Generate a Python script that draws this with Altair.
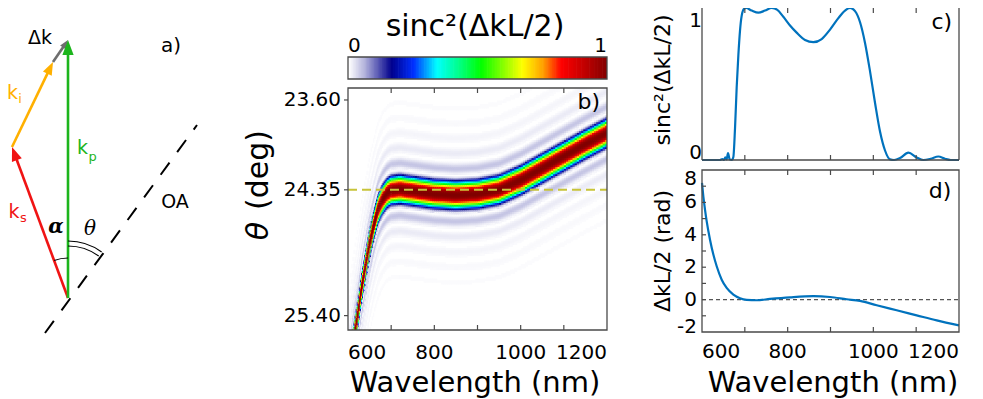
import numpy as np
import pandas as pd
import altair as alt

# ---------------- values ----------------
# (a) wave-vector diagram: pixel-sized units, common tail at (0, 0), y pointing up
vec_name = ["dk", "ki", "ks", "kp"]
vec_x0 = [-15, -56, 0, 0]
vec_y0 = [236, 151, 0, 0]
vec_x1 = [0, -15, -56, 0]
vec_y1 = [258, 236, 151, 258]
oa_x = [-23, 129]
oa_y = [-35, 173]

# (b) ridge of the sinc^2 map (deg); main-lobe half width, side-fringe period (deg)
ridge_wl = [600, 610, 615, 620, 625, 630, 640, 650, 660, 670, 680, 690, 700,
            720, 750, 800, 850, 900, 950, 1000, 1050, 1100, 1150, 1200]
ridge_theta = [25.95, 25.68, 25.56, 25.45, 25.33, 25.20, 25.00, 24.80, 24.64,
               24.51, 24.43, 24.38, 24.355, 24.345, 24.36, 24.385, 24.395,
               24.385, 24.35, 24.27, 24.17, 24.07, 23.97, 23.875]
main_halfwidth = 0.165
fringe_period = 0.125
lobe_power = 1.3
theta_pm = 24.35

# (c) sinc^2(dkL/2) at theta_pm
c_wl = [600, 642, 647.5, 651.4, 654.5, 657.6, 660.7, 664.6, 669.3, 673.2,
        677.1, 681, 684.9, 688.7, 692.6, 698.1, 702.8, 716, 731.6, 747.1,
        762.7, 775.9, 789.9, 805.5, 821, 840.5, 860, 879.4, 898.9, 918.3,
        933.9, 945.6, 957.3, 969, 980.6, 992.3, 1004, 1015.6, 1027.3, 1039,
        1048.3, 1062.3, 1081.8, 1101.2, 1116.8, 1133.9, 1151.8, 1167.4, 1180.6, 1200]
c_val = [0, 0, 0.006, 0, 0.017, 0.004, 0.046, 0.004, 0, 0.02,
         0.21, 0.48, 0.69, 0.85, 0.948, 0.994, 1.0, 0.983, 0.969, 0.983,
         1.0, 0.988, 0.942, 0.885, 0.838, 0.79, 0.775, 0.796, 0.858, 0.933,
         0.983, 1.0, 0.979, 0.906, 0.77, 0.583, 0.375, 0.1875, 0.0625, 0.004,
         0, 0.0125, 0.048, 0.017, 0, 0.008, 0.023, 0.008, 0, 0]

# (d) dkL/2 (rad) at theta_pm
d_wl = [600, 603.1, 607, 610.9, 618.7, 626.5, 634.3, 646, 657.6, 673.2, 688.7,
        704.3, 727.7, 758.8, 805.5, 860, 898.9, 937.8, 969, 1007.8, 1054.5,
        1101.2, 1148, 1200]
d_val = [7.2, 6.38, 5.56, 4.84, 3.70, 2.78, 2.06, 1.23, 0.72, 0.31, 0.086,
         -0.016, -0.04, 0.04, 0.14, 0.21, 0.16, 0.02, -0.08, -0.35, -0.66,
         -0.97, -1.28, -1.59]

# ticks / labels
wl_ticks = [700, 800, 900, 1000, 1100]
wl_labels = [600, 800, 1000, 1200]
theta_ticks = [23.60, 24.35, 25.40]
theta_labels = ["23.60", "24.35", "25.40"]
d_ticks = [-1, 0, 1, 2, 3, 4, 5, 6, 7]
d_labels = [-2, 0, 2, 4, 6, 8]

# colormap (white -> navy -> jet)
cmap_stops = [0.0, 0.06, 0.165, 0.25, 0.34, 0.42, 0.51, 0.67, 0.75, 0.82, 0.9, 1.0]
cmap_colors = ["#ffffff", "#b4b4dc", "#00008c", "#0030ff", "#00ffff", "#00ff90",
               "#00ff00", "#ffff00", "#ffa000", "#ff0000", "#c80000", "#800000"]

# styles
vec_colors = ["#6e6e6e", "#ffb000", "#f01414", "#1cb51c"]
head_size = [81, 169, 196, 225]
SANS = "DejaVu Sans"
SERIF = "DejaVu Serif"
FRAME = "#4a4a4a"
BLUE = "#0072bd"
ARROW = "M0,-1L0.75,1L-0.75,1Z"

# ---------------- scales (explicit pixel ranges) ----------------
def S(dom, rng):
    return alt.Scale(domain=dom, range=rng, nice=False, zero=False)

SXA = S([-60, 160], [0, 220])
SYA = S([0, 290], [290, 0])
SXB = S([600, 1200], [340, 599])
SYB = S([23.5, 25.52], [80, 322])
SXK = S([0, 1], [340, 599])
SXC = S([600, 1200], [694, 951])
SYC = S([0, 1], [152, 0])
SYD = S([-2, 8], [324, 162])
CS = alt.Scale(domain=cmap_stops, range=cmap_colors, interpolate="rgb")


def X(f, s):
    return alt.X(f, type="quantitative", scale=s, axis=None)


def Y(f, s):
    return alt.Y(f, type="quantitative", scale=s, axis=None)


def ptext(text, x, y, size, color="black", align="center", baseline="middle",
          angle=0, font=SANS, style="normal", weight="normal"):
    return alt.Chart(pd.DataFrame({"t": [text]})).mark_text(
        align=align, baseline=baseline, angle=angle, font=font, fontSize=size,
        fontStyle=style, fontWeight=weight, color=color
    ).encode(x=alt.value(x), y=alt.value(y), text="t:N")


def dtext(text, xv, yv, sx, sy, size, color="black", align="center",
          baseline="middle", font=SANS, style="normal", weight="normal", dy=0):
    df = pd.DataFrame({"x": [xv], "y": [yv], "t": [text]})
    return alt.Chart(df).mark_text(
        align=align, baseline=baseline, font=font, fontSize=size,
        fontStyle=style, fontWeight=weight, color=color, dy=dy
    ).encode(x=X("x:Q", sx), y=Y("y:Q", sy), text="t:N")


def xlabels(vals, sx, y, size):
    out = []
    for i, v in enumerate(vals):
        align = "left" if i == 0 else ("right" if i == len(vals) - 1 else "center")
        df = pd.DataFrame({"x": [v], "t": [str(v)]})
        out.append(alt.Chart(df).mark_text(align=align, baseline="alphabetic",
                                           fontSize=size, font=SANS, color="black")
                   .encode(x=X("x:Q", sx), y=alt.value(y), text="t:N"))
    return out


def xticks(vals, sx, y0, y1):
    return alt.Chart(pd.DataFrame({"x": vals})).mark_rule(
        color=FRAME, strokeWidth=1.2).encode(x=X("x:Q", sx), y=alt.value(y0), y2=alt.value(y1))


def yticks(vals, sy, x0, x1):
    return alt.Chart(pd.DataFrame({"y": vals})).mark_rule(
        color=FRAME, strokeWidth=1.2).encode(y=Y("y:Q", sy), x=alt.value(x0), x2=alt.value(x1))


layers = []

# ---------------- panel a ----------------
vec = pd.DataFrame({"name": vec_name, "x0": vec_x0, "y0": vec_y0,
                    "x1": vec_x1, "y1": vec_y1, "hs": head_size})
dx = vec.x1 - vec.x0
dy = vec.y1 - vec.y0
ln = np.hypot(dx, dy)
hl = np.sqrt(vec.hs)
vec["xe"] = vec.x1 - 0.8 * hl * dx / ln
vec["ye"] = vec.y1 - 0.8 * hl * dy / ln
vec["hx"] = vec.x1 - 0.5 * hl * dx / ln
vec["hy"] = vec.y1 - 0.5 * hl * dy / ln
vec["ang"] = np.degrees(np.arctan2(dx, dy)) % 360
vcol = alt.Color("name:N", scale=alt.Scale(domain=vec_name, range=vec_colors), legend=None)

oa = pd.DataFrame({"x0": [oa_x[0]], "y0": [oa_y[0]], "x1": [oa_x[1]], "y1": [oa_y[1]]})
layers.append(alt.Chart(oa).mark_rule(color="black", strokeWidth=2, strokeDash=[15, 13])
              .encode(x=X("x0:Q", SXA), y=Y("y0:Q", SYA), x2="x1:Q", y2="y1:Q"))
layers.append(alt.Chart(vec).mark_rule(strokeWidth=2.6)
              .encode(x=X("x0:Q", SXA), y=Y("y0:Q", SYA), x2="xe:Q", y2="ye:Q", color=vcol))
layers.append(alt.Chart(vec).mark_point(shape=ARROW, filled=True, opacity=1, strokeWidth=0)
              .encode(x=X("hx:Q", SXA), y=Y("hy:Q", SYA), color=vcol,
                      angle=alt.Angle("ang:Q", scale=None), size=alt.Size("hs:Q", scale=None)))

a_ks = float(np.arctan2(vec_x1[2], vec_y1[2]) % (2 * np.pi))
a_oa = float(np.arctan2(oa_x[1] - oa_x[0], oa_y[1] - oa_y[0]))
arc_df = pd.DataFrame({"x": [0], "y": [0]})
for t0, t1, r in [(a_ks, 2 * np.pi, 40), (0.0, a_oa, 52), (0.0, a_oa, 57)]:
    layers.append(alt.Chart(arc_df).mark_arc(theta=t0, theta2=t1, radius=r + 0.6,
                                             radius2=r - 0.6, color="black")
                  .encode(x=X("x:Q", SXA), y=Y("y:Q", SYA)))

layers += [
    dtext("Δk", -28, 260, SXA, SYA, 19),
    dtext("a)", 103, 252, SXA, SYA, 20),
    dtext("k", -55.5, 205.5, SXA, SYA, 19, color="#ffb000"),
    dtext("i", -48, 199, SXA, SYA, 13, color="#ffb000"),
    dtext("k", 14.5, 150.5, SXA, SYA, 19, color="#1cb51c"),
    dtext("p", 24.5, 141, SXA, SYA, 13, color="#1cb51c"),
    dtext("k", -54, 86.5, SXA, SYA, 19, color="#f01414"),
    dtext("s", -44.5, 80.5, SXA, SYA, 13, color="#f01414"),
    dtext("OA", 107, 96.5, SXA, SYA, 19),
    dtext("α", -12, 71, SXA, SYA, 20, font=SERIF, style="italic", weight="bold"),
    dtext("θ", 22, 69.5, SXA, SYA, 20, font=SERIF, style="italic"),
]

# ---------------- panel b: heat map ----------------
def heat_cells(l0, l1, ls, ts):
    lv = np.arange(l0, l1 - 1e-9, ls)
    tv = np.arange(23.5, 25.52 - 1e-9, ts)
    L, T = np.meshgrid(lv, tv, indexing="ij")
    th0 = np.interp(L + ls / 2, ridge_wl, ridge_theta)
    d = np.abs(T + ts / 2 - th0)
    u = np.where(d < main_halfwidth, (d / main_halfwidth) ** lobe_power,
                 1 + (d - main_halfwidth) / fringe_period)
    V = np.sinc(u) ** 2
    df = pd.DataFrame({"l": L.ravel().round(2), "t": T.ravel().round(4), "v": V.ravel().round(4)})
    return df[df.v >= 0.003].reset_index(drop=True)

TS = 0.015
for (l0, l1, ls) in [(600, 700, 2.5), (700, 1200, 5.0)]:
    hd = heat_cells(l0, l1, ls, TS)
    layers.append(
        alt.Chart(hd).transform_calculate(
            l2=f"min(datum.l + {ls * 1.4}, 1200)", t2=f"min(datum.t + {TS * 1.4}, 25.52)"
        ).mark_rect(strokeWidth=0).encode(
            x=X("l:Q", SXB), x2="l2:Q", y=Y("t:Q", SYB), y2="t2:Q",
            color=alt.Color("v:Q", scale=CS, legend=None))
    )

pm = pd.DataFrame({"l": [600, 1200], "t": [theta_pm, theta_pm]})
layers.append(alt.Chart(pm).mark_line(color="#c8c43a", strokeWidth=2, strokeDash=[9, 5])
              .encode(x=X("l:Q", SXB), y=Y("t:Q", SYB)))
frame_b = pd.DataFrame({"x": [600], "x2": [1200], "y": [23.5], "y2": [25.52]})
layers.append(alt.Chart(frame_b).mark_rect(fillOpacity=0, stroke=FRAME, strokeWidth=1.3)
              .encode(x=X("x:Q", SXB), x2="x2:Q", y=Y("y:Q", SYB), y2="y2:Q"))
layers += [xticks(wl_ticks, SXB, 322, 317), xticks(wl_ticks, SXB, 80, 85),
           yticks(theta_ticks, SYB, 336, 340)]
layers += xlabels(wl_labels, SXB, 351, 20)
tl = pd.DataFrame({"y": theta_ticks, "t": theta_labels})
layers.append(alt.Chart(tl).mark_text(align="right", baseline="middle", fontSize=20, font=SANS, color="black")
              .encode(y=Y("y:Q", SYB), x=alt.value(333), text="t:N"))
layers += [
    ptext("Wavelength (nm)", 467, 384, 29, baseline="alphabetic"),
    ptext("θ", 251, 223, 30, angle=270, style="italic"),
    ptext("(deg)", 251, 162, 30, angle=270),
    dtext("b)", 1158, 23.617, SXB, SYB, 22),
]

# colorbar
cb = pd.DataFrame({"v": np.round(np.linspace(0, 1, 161)[:-1], 5)})
layers.append(alt.Chart(cb).transform_calculate(v2="min(datum.v + 0.00875, 1)")
              .mark_rect(strokeWidth=0)
              .encode(x=X("v:Q", SXK), x2="v2:Q", y=alt.value(49), y2=alt.value(71),
                      color=alt.Color("v:Q", scale=CS, legend=None)))
cbf = pd.DataFrame({"x": [0], "x2": [1]})
layers.append(alt.Chart(cbf).mark_rect(fillOpacity=0, stroke=FRAME, strokeWidth=1.3)
              .encode(x=X("x:Q", SXK), x2="x2:Q", y=alt.value(49), y2=alt.value(71)))
cbl = pd.DataFrame({"x": [0], "t": ["0"]})
layers.append(alt.Chart(cbl).mark_text(align="left", baseline="alphabetic", fontSize=20, font=SANS)
              .encode(x=X("x:Q", SXK), y=alt.value(44), text="t:N"))
cbr = pd.DataFrame({"x": [1], "t": ["1"]})
layers.append(alt.Chart(cbr).mark_text(align="right", baseline="alphabetic", fontSize=20, font=SANS)
              .encode(x=X("x:Q", SXK), y=alt.value(44), text="t:N"))
layers.append(ptext("sinc²(ΔkL/2)", 467, 28, 30, baseline="alphabetic"))

# ---------------- panel c ----------------
cdf = pd.DataFrame({"l": c_wl, "v": c_val})
layers.append(alt.Chart(cdf).mark_line(color=BLUE, strokeWidth=2.2, interpolate="monotone")
              .encode(x=X("l:Q", SXC), y=Y("v:Q", SYC)))
layers.append(alt.Chart(pd.DataFrame({"x": [600, 1200]})).mark_rule(color=FRAME, strokeWidth=1.3)
              .encode(x=X("x:Q", SXC), y=alt.value(0), y2=alt.value(152)))
layers.append(alt.Chart(pd.DataFrame({"y": [0]})).mark_rule(color=FRAME, strokeWidth=1.3)
              .encode(y=Y("y:Q", SYC), x=alt.value(694), x2=alt.value(951)))
layers += [xticks(wl_ticks, SXC, 152, 147), xticks(wl_ticks, SXC, 0, 5)]
layers += [
    dtext("1", 600, 1, SXC, SYC, 20, align="right", dy=13),
    dtext("0", 600, 0, SXC, SYC, 20, align="right", dy=-7),
    dtext("c)", 1160, 0.91, SXC, SYC, 22),
    ptext("sinc²(ΔkL/2)", 655, 72, 22, angle=270),
]

# ---------------- panel d ----------------
ddf = pd.DataFrame({"l": d_wl, "v": d_val})
layers.append(alt.Chart(pd.DataFrame({"l": [600, 1200], "v": [0, 0]}))
              .mark_line(color="#555555", strokeWidth=1.2, strokeDash=[4, 3])
              .encode(x=X("l:Q", SXC), y=Y("v:Q", SYD)))
layers.append(alt.Chart(ddf).mark_line(color=BLUE, strokeWidth=2.2, interpolate="monotone")
              .encode(x=X("l:Q", SXC), y=Y("v:Q", SYD)))
frame_d = pd.DataFrame({"x": [600], "x2": [1200], "y": [-2], "y2": [8]})
layers.append(alt.Chart(frame_d).mark_rect(fillOpacity=0, stroke=FRAME, strokeWidth=1.3)
              .encode(x=X("x:Q", SXC), x2="x2:Q", y=Y("y:Q", SYD), y2="y2:Q"))
layers += [xticks(wl_ticks, SXC, 324, 319), xticks(wl_ticks, SXC, 162, 167),
           yticks(d_ticks, SYD, 694, 698)]
layers += xlabels(wl_labels, SXC, 350, 20)
for v in d_labels:
    off = 9 if v == 8 else (-5 if v == -2 else 0)
    layers.append(dtext(str(v), 600, v, SXC, SYD, 20, align="right", dy=off)
                  .encode(x=alt.value(689)))
layers += [
    dtext("d)", 1156, 6.70, SXC, SYD, 22),
    ptext("ΔkL/2 (rad)", 655, 243, 22, angle=270),
    ptext("Wavelength (nm)", 825, 384, 29, baseline="alphabetic"),
]

chart = alt.layer(*layers).resolve_scale(
    x="independent", y="independent", color="independent"
).properties(
    width=967, height=391, autosize=alt.AutoSizeParams(type="none"), padding=0
).configure_view(strokeWidth=0)

chart.save("out.html", embed_options={"renderer": "svg", "actions": False})
